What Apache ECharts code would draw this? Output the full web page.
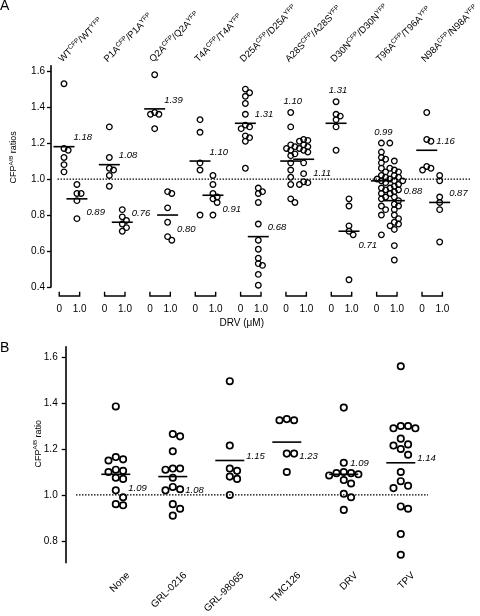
<!DOCTYPE html>
<html><head><meta charset="utf-8">
<script src="https://cdn.jsdelivr.net/npm/echarts@6/dist/echarts.min.js"></script>
<style>html,body{margin:0;padding:0;background:#fff}#c{width:480px;height:616px}</style>
</head><body><div id="c"></div>
<script>
// ---------- Panel A data ----------
const groupsA = ['WT','P1A','Q2A','T4A','D25A','A28S','D30N','T96A','N98A'];
const drvLevels = ['0','1.0'];
const ticksA = [0.4,0.6,0.8,1.0,1.2,1.4,1.6];
const valuesA0 = [
  [1.53,1.17,1.16,1.12,1.08,1.04],
  [1.29,1.12,1.06,1.05,1.02,0.96],
  [1.58,1.37,1.36,1.36,1.28],
  [1.33,1.26,1.09,1.05,0.80],
  [1.50,1.48,1.46,1.42,1.36,1.30,1.29,1.28,1.24,1.23,1.21,1.06],
  [1.37,1.29,1.19,1.18,1.17,1.16,1.14,1.13,1.09,1.05,1.01,0.97,0.89,0.87],
  [1.43,1.36,1.35,1.33,1.29,1.16],
  [1.20,1.20,1.15,1.12,1.11,1.09,1.06,1.06,1.04,1.02,1.01,1.00,1.00,0.99,0.98,0.95,0.94,0.92,0.90,0.89,0.85,0.83,0.80,0.69],
  [1.37,1.22,1.21,1.07,1.06,1.05]
];
const valuesA1 = [
  [0.97,0.92,0.92,0.88,0.78],
  [0.83,0.79,0.77,0.75,0.73,0.71],
  [0.93,0.92,0.84,0.76,0.68,0.66],
  [1.02,0.97,0.92,0.90,0.89,0.87,0.80],
  [0.95,0.93,0.92,0.87,0.75,0.66,0.61,0.56,0.53,0.52,0.47,0.41],
  [1.22,1.215,1.21,1.19,1.18,1.17,1.16,1.15,1.09,1.03,0.985,0.98,0.97],
  [0.89,0.85,0.74,0.71,0.69,0.44],
  [1.10,1.05,1.04,1.02,1.01,0.99,0.99,0.97,0.96,0.95,0.94,0.93,0.92,0.90,0.88,0.86,0.85,0.83,0.80,0.78,0.76,0.75,0.74,0.72,0.63,0.55],
  [1.02,0.99,0.90,0.87,0.83,0.65]
];
const meansA0 = [1.18,1.08,1.39,1.10,1.31,1.10,1.31,0.99,1.16];
const meansA1 = [0.89,0.76,0.80,0.91,0.68,1.11,0.71,0.88,0.87];

// ---------- Panel B data ----------
const catsB = ['None','GRL-0216','GRL-98065','TMC126','DRV','TPV'];
const ticksB = [0.8,1.0,1.2,1.4,1.6];
const valuesB = [
  [1.385,1.165,1.155,1.15,1.11,1.105,1.10,1.075,1.07,1.02,0.99,0.96,0.955],
  [1.265,1.255,1.19,1.115,1.115,1.11,1.075,1.035,1.025,1.02,0.96,0.94,0.91],
  [1.495,1.215,1.115,1.105,1.08,1.07,1.0],
  [1.33,1.325,1.325,1.18,1.18,1.10],
  [1.38,1.14,1.10,1.095,1.095,1.09,1.085,1.065,1.05,1.005,0.99,0.935],
  [1.56,1.30,1.30,1.29,1.29,1.245,1.22,1.215,1.20,1.175,1.10,1.06,1.04,1.03,0.95,0.94,0.83,0.74]
];
const meansB = [1.09,1.08,1.15,1.23,1.09,1.14];

// ---------- layout / style (not data) ----------
const FONT = '"Liberation Sans", Arial, Helvetica, sans-serif';
const XA = {min: -0.4067, max: 8.910};
const XB = {min: -0.879, max: 6.39};
const COL_OFF = [-0.12, 0.165];
const TICK_OFF = 0.225;
const TOP_OFF = -0.2;
const B_LAB_OFF = 0.22;
const labelPlaceA = [['ne','se'],['ne','ne'],['ne','se'],['ne','se'],['ne','ne'],['top','se'],['top','se'],['top','ne'],['ne','ne']];
const labelPlaceB = ['se','se','e','se','ne','e'];

const chart = echarts.init(document.getElementById('c'), null, {renderer: 'canvas'});

const tickPosA = [];
groupsA.forEach((_, g) => { tickPosA.push(g - TICK_OFF, g + TICK_OFF); });

const meanItemsA = [];
groupsA.forEach((_, g) => {
  meanItemsA.push([g + COL_OFF[0], meansA0[g]]);
  meanItemsA.push([g + COL_OFF[1], meansA1[g]]);
});
const topValA = [];
groupsA.forEach((_, g) => { topValA.push(Math.max(...valuesA0[g]), Math.max(...valuesA1[g])); });

const supRich = {
  m: {fontSize: 9.5, fontFamily: FONT, color: '#000'},
  s: {fontSize: 6.5, fontFamily: FONT, color: '#000', padding: [0, 0, 5, 0]}
};
const nameRich = {
  m: {fontSize: 9, fontFamily: FONT, color: '#000'},
  s: {fontSize: 6, fontFamily: FONT, color: '#000', padding: [0, 0, 5, 0]}
};

function meanRenderA(params, api) {
  const i = params.dataIndex;
  const g = Math.floor(i / 2), c = i % 2;
  const x = api.value(0), m = api.value(1);
  const p = api.coord([x, m]);
  const hw = 10.5;
  const place = labelPlaceA[g][c];
  let tx, ty, align = 'left';
  if (place === 'ne') { tx = p[0] + hw - 1; ty = p[1] - 9; }
  else if (place === 'se') { tx = p[0] + hw - 1; ty = p[1] + 14; }
  else { const t = api.coord([x, topValA[i]]); tx = t[0] + 2; ty = t[1] - 11; align = 'center'; }
  return {type: 'group', children: [
    {type: 'line', shape: {x1: p[0] - hw, y1: p[1], x2: p[0] + hw, y2: p[1]}, style: {stroke: '#000', lineWidth: 1.6}},
    {type: 'text', style: {x: tx, y: ty, text: m.toFixed(2), fill: '#000', font: 'italic 9.5px ' + FONT, align: align, verticalAlign: 'middle'}}
  ]};
}
function meanRenderB(params, api) {
  const i = params.dataIndex;
  const x = api.value(0), m = api.value(1);
  const p = api.coord([x, m]);
  const hw = 14.5;
  const place = labelPlaceB[i];
  let tx, ty;
  if (place === 'se') { tx = p[0] + hw - 2; ty = p[1] + 14; }
  else if (place === 'ne') { tx = p[0] + hw - 8; ty = p[1] - 11; }
  else { tx = p[0] + hw + 2; ty = p[1] - 4; }
  return {type: 'group', children: [
    {type: 'line', shape: {x1: p[0] - hw, y1: p[1], x2: p[0] + hw, y2: p[1]}, style: {stroke: '#000', lineWidth: 1.6}},
    {type: 'text', style: {x: tx, y: ty, text: m.toFixed(2), fill: '#000', font: 'italic 9.5px ' + FONT, align: 'left', verticalAlign: 'middle'}}
  ]};
}
function bracketRender(params, api) {
  const g = api.value(0);
  const l = api.coord([g - TICK_OFF, ticksA[0]]);
  const r = api.coord([g + TICK_OFF, ticksA[0]]);
  return {type: 'polyline', shape: {points: [[l[0], l[1] + 4.7], [l[0], l[1] + 9], [r[0], r[1] + 9], [r[0], r[1] + 4.7]]},
    style: {stroke: '#000', fill: null, lineWidth: 1.4}};
}

const option = {
  animation: false,
  textStyle: {fontFamily: FONT, color: '#000'},
  title: [
    {text: 'A', left: 0, top: -1, padding: 0, textStyle: {fontFamily: FONT, fontSize: 14, fontWeight: 'normal', color: '#000'}},
    {text: 'B', left: 0, top: 341, padding: 0, textStyle: {fontFamily: FONT, fontSize: 14, fontWeight: 'normal', color: '#000'}}
  ],
  grid: [
    {left: 31, top: 56.4, width: 449, height: 230.6},
    {left: 65.7, top: 346.7, width: 414.3, height: 226}
  ],
  xAxis: [
    {gridIndex: 0, type: 'value', min: XA.min, max: XA.max, position: 'bottom',
      axisLine: {show: false, onZero: false}, axisTick: {show: false}, splitLine: {show: false},
      axisLabel: {customValues: tickPosA, margin: 17, fontSize: 10, color: '#000', fontFamily: FONT,
        formatter: v => drvLevels[v < Math.round(v) ? 0 : 1]},
      name: 'DRV (\u03bcM)', nameLocation: 'middle', nameGap: 31,
      nameTextStyle: {fontSize: 10, color: '#000', fontFamily: FONT, padding: [0, 41, 0, 0]}},
    {gridIndex: 0, type: 'value', min: XA.min, max: XA.max, position: 'top',
      axisLine: {show: false, onZero: false}, axisTick: {show: false}, splitLine: {show: false},
      axisLabel: {customValues: groupsA.map((_, g) => g + TOP_OFF), rotate: -45, margin: 5, rich: supRich,
        formatter: v => { const n = groupsA[Math.round(v - TOP_OFF)]; return '{m|' + n + '}{s|CFP}{m|/' + n + '}{s|YFP}'; }}},
    {gridIndex: 1, type: 'value', min: XB.min, max: XB.max, position: 'bottom',
      axisLine: {show: false, onZero: false}, axisTick: {show: false}, splitLine: {show: false},
      axisLabel: {customValues: catsB.map((_, i) => i + B_LAB_OFF), rotate: 45, margin: 11, fontSize: 10, color: '#000', fontFamily: FONT,
        formatter: v => catsB[Math.round(v - B_LAB_OFF)]}}
  ],
  yAxis: [
    {gridIndex: 0, type: 'value', min: 0.4, max: 1.63,
      axisLine: {show: true, onZero: false, lineStyle: {color: '#000', width: 1.6}},
      axisTick: {show: true, customValues: ticksA, length: 4, lineStyle: {color: '#000', width: 1.3}},
      axisLabel: {customValues: ticksA, margin: 6, fontSize: 10, color: '#000', fontFamily: FONT, formatter: v => v.toFixed(1)},
      splitLine: {show: false},
      name: '{m|CFP}{s|A/B}{m| ratios}', nameLocation: 'middle', nameGap: 32,
      nameTextStyle: {rich: nameRich, padding: [0, 0, 0, 38]}},
    {gridIndex: 1, type: 'value', min: 0.705, max: 1.645,
      axisLine: {show: true, onZero: false, lineStyle: {color: '#000', width: 1.6}},
      axisTick: {show: true, customValues: ticksB, length: 4, lineStyle: {color: '#000', width: 1.3}},
      axisLabel: {customValues: ticksB, margin: 8, fontSize: 10, color: '#000', fontFamily: FONT, formatter: v => v.toFixed(1)},
      splitLine: {show: false},
      name: '{m|CFP}{s|A/B}{m| ratio}', nameLocation: 'middle', nameGap: 22, nameMoveOverlap: false,
      nameTextStyle: {rich: nameRich, padding: [0, 0, 0, 22]}}
  ],
  series: [
    {id: 'refA', type: 'line', xAxisIndex: 0, yAxisIndex: 0, data: [[-0.262, 1], [8.869, 1]], symbol: 'none', silent: true,
      lineStyle: {color: '#000', width: 1.2, type: [1.5, 1.5]}},
    {id: 'refB', type: 'line', xAxisIndex: 2, yAxisIndex: 1, data: [[-0.698, 1], [5.477, 1]], symbol: 'none', silent: true,
      lineStyle: {color: '#000', width: 1.2, type: [1.5, 1.5]}},
    {id: 'brackets', type: 'custom', xAxisIndex: 0, yAxisIndex: 0, clip: false, silent: true,
      data: groupsA.map((_, g) => [g, ticksA[0]]), renderItem: bracketRender},
    {id: 'meanA', type: 'custom', xAxisIndex: 0, yAxisIndex: 0, clip: false, silent: true, data: meanItemsA, renderItem: meanRenderA},
    {id: 'meanB', type: 'custom', xAxisIndex: 2, yAxisIndex: 1, clip: false, silent: true,
      data: catsB.map((_, i) => [i, meansB[i]]), renderItem: meanRenderB},
    {id: 'dotsA', type: 'scatter', xAxisIndex: 0, yAxisIndex: 0, data: [], symbolSize: 5.6, silent: true,
      itemStyle: {color: 'rgba(0,0,0,0)', borderColor: '#000', borderWidth: 1.3, opacity: 1}},
    {id: 'dotsB', type: 'scatter', xAxisIndex: 2, yAxisIndex: 1, data: [], symbolSize: 6.4, silent: true,
      itemStyle: {color: 'rgba(0,0,0,0)', borderColor: '#000', borderWidth: 1.7, opacity: 1}}
  ]
};
chart.setOption(option);

// beeswarm: spread overlapping points horizontally using the chart's own scales
function swarm(gridIndex, xc, vals, thr, step) {
  const c = chart.convertToPixel({gridIndex: gridIndex}, [xc, 1])[0];
  const placed = [];
  return vals.map(v => {
    const py = chart.convertToPixel({gridIndex: gridIndex}, [xc, v])[1];
    let px = c;
    for (let k = 0; k < 60; k++) {
      const off = k === 0 ? 0 : (k % 2 ? 1 : -1) * Math.ceil(k / 2) * step;
      const cand = c + off;
      if (placed.every(q => Math.hypot(q[0] - cand, q[1] - py) >= thr)) { px = cand; break; }
    }
    placed.push([px, py]);
    return [chart.convertFromPixel({gridIndex: gridIndex}, [px, py])[0], v];
  });
}
const dotsA = [];
groupsA.forEach((_, g) => {
  dotsA.push(...swarm(0, g + COL_OFF[0], valuesA0[g], 4.2, 4.2));
  dotsA.push(...swarm(0, g + COL_OFF[1], valuesA1[g], 4.2, 4.2));
});
const dotsB = [];
catsB.forEach((_, i) => { dotsB.push(...swarm(1, i, valuesB[i], 7.2, 7.3)); });
chart.setOption({series: [{id: 'dotsA', data: dotsA}, {id: 'dotsB', data: dotsB}]});
</script>
</body></html>
